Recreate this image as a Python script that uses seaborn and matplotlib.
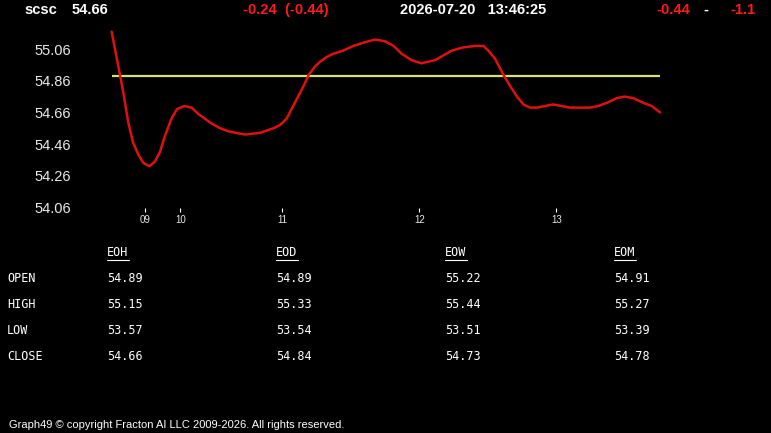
import matplotlib
matplotlib.use("Agg")
import matplotlib.pyplot as plt
from matplotlib.lines import Line2D
import seaborn as sns

# price line (x = bar position, 0..100)
bar_pos = [0.0, 0.6, 1.5, 2.1, 3.0, 3.9, 4.9, 5.8, 6.9, 7.9, 8.8, 9.7, 10.9,
           11.9, 13.2, 14.6, 15.8, 17.0, 18.2, 19.8, 21.3, 22.8, 24.3, 27.0,
           29.5, 30.7, 31.9, 32.8, 33.7, 34.9, 36.0, 37.1, 38.0, 39.2, 40.4,
           42.2, 44.1, 45.9, 48.0, 49.8, 51.4, 52.9, 54.7, 56.5, 57.7, 59.0,
           60.5, 62.0, 64.1, 66.3, 67.8, 68.7, 69.9, 71.4, 72.6, 73.9, 75.1,
           76.3, 77.5, 79.0, 80.5, 82.1, 83.6, 85.4, 87.2, 88.7, 90.3, 92.1,
           93.6, 95.1, 97.0, 98.5, 100.0]
price = [55.17, 55.06, 54.90, 54.79, 54.60, 54.47, 54.39, 54.34, 54.32, 54.35,
         54.41, 54.51, 54.62, 54.68, 54.70, 54.69, 54.65, 54.62, 54.59, 54.56,
         54.54, 54.53, 54.52, 54.53, 54.56, 54.58, 54.62, 54.68, 54.74, 54.82,
         54.90, 54.95, 54.98, 55.01, 55.03, 55.05, 55.08, 55.10, 55.12, 55.11,
         55.08, 55.03, 54.99, 54.97, 54.98, 54.99, 55.02, 55.05, 55.07, 55.08,
         55.08, 55.05, 55.00, 54.90, 54.83, 54.76, 54.71, 54.69, 54.69, 54.70,
         54.71, 54.70, 54.69, 54.69, 54.69, 54.70, 54.72, 54.75, 54.76, 54.75,
         54.72, 54.70, 54.66]
open_price = 54.89

hour_pos = [6.1, 12.5, 31.1, 56.1, 81.1]
hour_labels = ["09", "10", "11", "12", "13"]
y_ticks = [54.06, 54.26, 54.46, 54.66, 54.86, 55.06]

# summary table
col_names = ["EOH", "EOD", "EOW", "EOM"]
row_names = ["OPEN", "HIGH", "LOW", "CLOSE"]
open_vals = ["54.89", "54.89", "55.22", "54.91"]
high_vals = ["55.15", "55.33", "55.44", "55.27"]
low_vals = ["53.57", "53.54", "53.51", "53.39"]
close_vals = ["54.66", "54.84", "54.73", "54.78"]

sns.set_style("dark", {"axes.facecolor": "black", "figure.facecolor": "black"})
plt.rcParams["font.family"] = ["Liberation Sans", "DejaVu Sans"]

W, H = 771, 433
fig = plt.figure(figsize=(W / 100, H / 100), dpi=100, facecolor="black")
ax = fig.add_axes([100 / W, 1 - 208 / H, 580 / W, 180 / H])
ax.set_facecolor("black")

ax.hlines(open_price, bar_pos[0], bar_pos[-1], color="#d8e070", lw=1.6, zorder=2)
sns.lineplot(x=bar_pos, y=price, ax=ax, color="#e01010", lw=1.8, zorder=3)
ax.lines[-1].set_solid_joinstyle("round")

ax.set_xlim(-2.13, 103.65)
ax.set_ylim(54.056, 55.193)
ax.set_yticks(y_ticks)
ax.set_yticklabels([f"{v:.2f}" for v in y_ticks])
ax.set_xticks(hour_pos)
ax.set_xticklabels(hour_labels)
ax.tick_params(axis="y", left=False, length=0, pad=21, labelsize=10.5,
               labelcolor="#e8e8e8")
ax.tick_params(axis="x", bottom=True, direction="out", length=3, width=0.8,
               color="white", pad=2, labelsize=7, labelcolor="#e8e8e8")
for s in ax.spines.values():
    s.set_visible(False)
ax.grid(False)

# header
def ftxt(x, y, s, color="white", **kw):
    fig.text(x / W, 1 - y / H, s, color=color, va="center", **kw)

ftxt(24, 10, "scsc", fontsize=10.5, fontweight="bold")
ftxt(72, 10, "54.66", fontsize=10.5, fontweight="bold")
ftxt(243, 10, "-0.24  (-0.44)", color="#ff1a1a", fontsize=10.5, fontweight="bold")
ftxt(400, 10, "2026-07-20   13:46:25", fontsize=10.5, fontweight="bold")
ftxt(656, 10, "-0.44", color="#ff1a1a", fontsize=10.5, fontweight="bold")
ftxt(703, 10, "-", fontsize=10.5, fontweight="bold")
ftxt(730, 10, "-1.1", color="#ff1a1a", fontsize=10.5, fontweight="bold")

# table
mono = ["DejaVu Sans Mono"]
col_x = [107, 276, 445, 614]
row_y = [279, 304, 330, 356]
rows = [open_vals, high_vals, low_vals, close_vals]
for cx, name in zip(col_x, col_names):
    ftxt(cx, 252, name, fontsize=8.5, family=mono)
    fig.add_artist(Line2D([cx / W, (cx + 22) / W], [1 - 260 / H, 1 - 260 / H],
                          color="white", lw=0.8))
for ry, rname, vals in zip(row_y, row_names, rows):
    ftxt(7, ry, rname, fontsize=8.5, family=mono)
    for cx, v in zip(col_x, vals):
        ftxt(cx, ry, v, fontsize=8.5, family=mono)

ftxt(9, 425, "Graph49 \u00a9 copyright Fracton AI LLC 2009-2026. All rights reserved.",
     fontsize=8)

fig.savefig("out.png", dpi=100, facecolor="black")
